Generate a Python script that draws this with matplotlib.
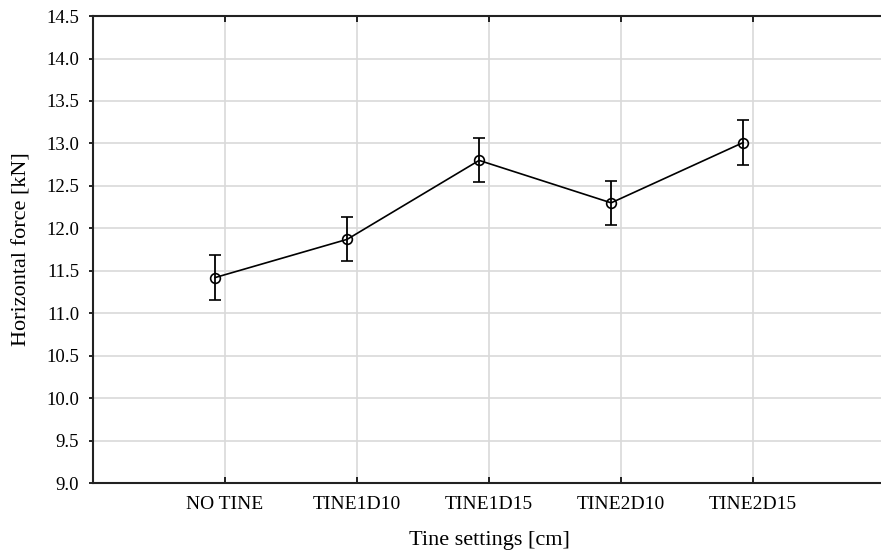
import numpy as np
import matplotlib.pyplot as plt

# mean horizontal force per tine setting, with error bar half-widths
settings = ['NO TINE', 'TINE1D10', 'TINE1D15', 'TINE2D10', 'TINE2D15']
force_mean = [11.42, 11.87, 12.80, 12.30, 13.01]
force_err = [0.26, 0.26, 0.26, 0.26, 0.26]

plt.rcParams['font.family'] = ['Liberation Serif', 'DejaVu Serif']

fig = plt.figure(figsize=(8.81, 5.5), dpi=100)
ax = fig.add_axes([0.1056, 0.1218, 0.899, 0.849])

pos = np.arange(1, len(settings) + 1)
ax.errorbar(pos - 0.075, force_mean, yerr=force_err, color='black',
            linewidth=1.2, marker='o', markersize=7, markerfacecolor='none',
            markeredgewidth=1.2, capsize=4.5, capthick=1.3, elinewidth=1.3,
            zorder=3)

ax.set_xlim(0, 6)
ax.set_ylim(9.0, 14.5)
ax.set_xticks(pos)
ax.set_xticklabels(settings)
ax.set_yticks(np.arange(9.0, 14.51, 0.5))
ax.yaxis.set_major_formatter(plt.FormatStrFormatter('%.1f'))

ax.grid(True, color='#d9d9d9', linewidth=1.2, zorder=0)
ax.set_axisbelow(True)
for side in ['left', 'top', 'bottom', 'right']:
    ax.spines[side].set_linewidth(1.5)
    ax.spines[side].set_color('#222222')

ax.tick_params(axis='x', direction='in', length=4, width=1.2, top=True,
               labelsize=14, pad=9)
ax.tick_params(axis='y', direction='out', length=3, width=1.2,
               labelsize=13.5, pad=7)

ax.set_xlabel('Tine settings [cm]', fontsize=16)
ax.set_ylabel('Horizontal force [kN]', fontsize=16)
ax.xaxis.set_label_coords(0.5, -0.103)
ax.yaxis.set_label_coords(-0.078, 0.5)

fig.savefig('out.png', dpi=100)
